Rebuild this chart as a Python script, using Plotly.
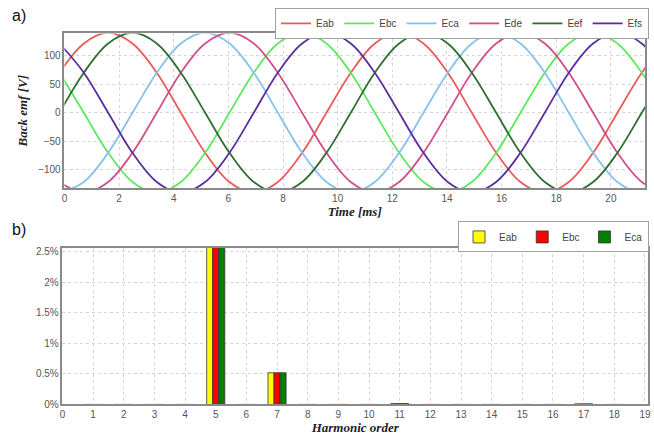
import plotly.graph_objects as go

# ---- a) back EMF waveforms (values read from the picture) ----
time_ms = [-0.18, 0.71, 1.60, 2.49, 3.38, 4.26, 5.15, 6.04, 6.93, 7.81, 8.70, 9.59,
           10.48, 11.36, 12.25, 13.14, 14.03, 14.91, 15.80, 16.69, 17.58, 18.46,
           19.35, 20.24, 21.13, 22.01]
e_ab = [70, 121, 140, 121, 70, 0, -70, -121, -140, -121, -70, 0, 70, 121, 140, 121,
        70, 0, -70, -121, -140, -121, -70, 0, 70, 121]
e_bc = [70, 0, -70, -121, -140, -121, -70, 0, 70, 121, 140, 121, 70, 0, -70, -121,
        -140, -121, -70, 0, 70, 121, 140, 121, 70, 0]
e_ca = [-140, -121, -70, 0, 70, 121, 140, 121, 70, 0, -70, -121, -140, -121, -70, 0,
        70, 121, 140, 121, 70, 0, -70, -121, -140, -121]
e_de = [-121, -140, -121, -70, 0, 70, 121, 140, 121, 70, 0, -70, -121, -140, -121, -70,
        0, 70, 121, 140, 121, 70, 0, -70, -121, -140]
e_ef = [0, 70, 121, 140, 121, 70, 0, -70, -121, -140, -121, -70, 0, 70, 121, 140,
        121, 70, 0, -70, -121, -140, -121, -70, 0, 70]
e_fs = [121, 70, 0, -70, -121, -140, -121, -70, 0, 70, 121, 140, 121, 70, 0, -70,
        -121, -140, -121, -70, 0, 70, 121, 140, 121, 70]
wave_names = ["Eab", "Ebc", "Eca", "Ede", "Eef", "Efs"]
wave_colors = ["#ec5a5c", "#5ee85e", "#86c2ec", "#d24f8c", "#2f6e33", "#5b2ea0"]

# ---- b) harmonic spectrum (% of fundamental) ----
harm_order = list(range(1, 19))
h_ab = [0, 0, 0, 0, 2.6, 0, 0.52, 0, 0, 0, 0.015, 0, 0, 0, 0, 0, 0.01, 0]
h_bc = [0, 0, 0, 0, 2.6, 0, 0.52, 0, 0, 0, 0.015, 0, 0, 0, 0, 0, 0.01, 0]
h_ca = [0, 0, 0, 0, 2.6, 0, 0.52, 0, 0, 0, 0.015, 0, 0, 0, 0, 0, 0.01, 0]
bar_names = ["Eab", "Ebc", "Eca"]
bar_colors = ["#ffff00", "#ff0000", "#008000"]

W, H = 654, 439
fig = go.Figure()

for name, vals, col in zip(wave_names, [e_ab, e_bc, e_ca, e_de, e_ef, e_fs], wave_colors):
    fig.add_trace(go.Scatter(x=time_ms, y=vals, name=name, mode="lines",
                             line=dict(color=col, width=1.8, shape="spline", smoothing=1.0),
                             xaxis="x", yaxis="y", legend="legend"))

for name, vals, col in zip(bar_names, [h_ab, h_bc, h_ca], bar_colors):
    fig.add_trace(go.Bar(x=harm_order, y=vals, name=name,
                         marker=dict(color=col, line=dict(color="#333333", width=0.8)),
                         xaxis="x2", yaxis="y2", legend="legend2"))

tick_font = dict(family="Liberation Sans, Arial", size=10, color="#555555")
title_font = dict(family="Liberation Serif, Times New Roman", size=13, color="#222222")
axis_common = dict(showline=True, linecolor="#8a8a8a", linewidth=1.5, mirror=True,
                   showgrid=True, gridcolor="#d6d6d6", griddash="dot", gridwidth=1,
                   zeroline=False, ticks="", tickfont=tick_font)

def px_x(p):
    return p / W

def px_y(p):
    return 1 - p / H

legend_font = dict(family="Liberation Sans, Arial", size=10, color="#444444")

fig.update_layout(
    width=W, height=H, margin=dict(l=0, r=0, t=0, b=0),
    paper_bgcolor="white", plot_bgcolor="white",
    barmode="group", bargap=0.41, bargroupgap=0,
    xaxis=dict(domain=[px_x(62), px_x(648)], range=[0, 21.25], dtick=2, anchor="y",
               title=dict(text="<b><i>Time [ms]</i></b>", font=title_font, standoff=3),
               **axis_common),
    yaxis=dict(domain=[px_y(190), px_y(33)], range=[-131.5, 138.5], tickvals=[-100, -50, 0, 50, 100],
               anchor="x",
               title=dict(text="<b><i>Back emf [V]</i></b>", font=title_font, standoff=8),
               **axis_common),
    xaxis2=dict(domain=[px_x(60), px_x(651)], range=[0, 19.1], dtick=1, anchor="y2",
                title=dict(text="<b><i>Harmonic order</i></b>", font=title_font, standoff=4),
                **axis_common),
    yaxis2=dict(domain=[px_y(410), px_y(251)], range=[0, 2.565], dtick=0.5, ticksuffix="%",
                anchor="x2", **axis_common),
    legend=dict(orientation="h", x=px_x(652), xanchor="right", y=px_y(7), yanchor="top",
                bgcolor="white", bordercolor="#a0a0a0", borderwidth=1,
                font=legend_font, itemwidth=30, tracegroupgap=0),
    legend2=dict(orientation="h", x=px_x(652), xanchor="right", y=px_y(224), yanchor="top",
                 bgcolor="white", bordercolor="#a0a0a0", borderwidth=1,
                 font=legend_font, itemwidth=30, tracegroupgap=0),
    annotations=[
        dict(text="a)", x=px_x(7), y=px_y(4), xref="paper", yref="paper", xanchor="left",
             yanchor="top", showarrow=False, font=dict(family="Liberation Sans, Arial", size=16, color="#111")),
        dict(text="b)", x=px_x(7), y=px_y(222), xref="paper", yref="paper", xanchor="left",
             yanchor="top", showarrow=False, font=dict(family="Liberation Sans, Arial", size=16, color="#111")),
    ],
)

fig.write_html("out.html")
